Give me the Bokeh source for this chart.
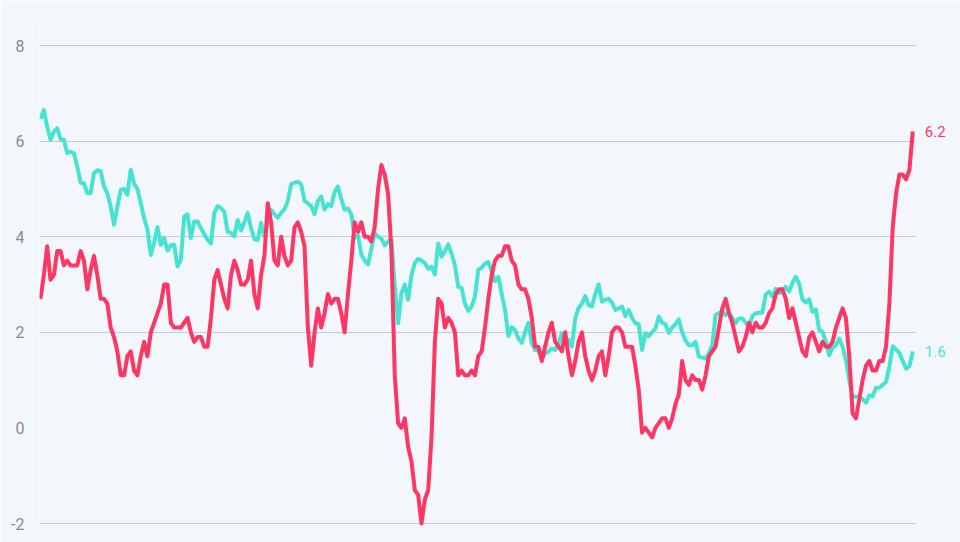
from bokeh.plotting import figure
from bokeh.models import Range1d, FixedTicker, Label, ColumnDataSource, BoxAnnotation
from bokeh.embed import file_html
from bokeh.resources import INLINE

# Monthly year-over-year % change, Jan 2000 .. Oct 2021
red_series = [
    2.7, 3.2, 3.8, 3.1, 3.2, 3.7, 3.7, 3.4, 3.5, 3.4, 3.4, 3.4,
    3.7, 3.5, 2.9, 3.3, 3.6, 3.2, 2.7, 2.7, 2.6, 2.1, 1.9, 1.6,
    1.1, 1.1, 1.5, 1.6, 1.2, 1.1, 1.5, 1.8, 1.5, 2.0, 2.2, 2.4,
    2.6, 3.0, 3.0, 2.2, 2.1, 2.1, 2.1, 2.2, 2.3, 2.0, 1.8, 1.9,
    1.9, 1.7, 1.7, 2.3, 3.1, 3.3, 3.0, 2.7, 2.5, 3.2, 3.5, 3.3,
    3.0, 3.0, 3.1, 3.5, 2.8, 2.5, 3.2, 3.6, 4.7, 4.3, 3.5, 3.4,
    4.0, 3.6, 3.4, 3.5, 4.2, 4.3, 4.1, 3.8, 2.1, 1.3, 2.0, 2.5,
    2.1, 2.4, 2.8, 2.6, 2.7, 2.7, 2.4, 2.0, 2.8, 3.5, 4.3, 4.1,
    4.3, 4.0, 4.0, 3.9, 4.2, 5.0, 5.5, 5.3, 4.9, 3.7, 1.1, 0.1,
    0.0, 0.2, -0.4, -0.7, -1.3, -1.4, -2.0, -1.5, -1.3, -0.2, 1.8, 2.7,
    2.6, 2.1, 2.3, 2.2, 2.0, 1.1, 1.2, 1.1, 1.1, 1.2, 1.1, 1.5,
    1.6, 2.1, 2.7, 3.2, 3.5, 3.6, 3.6, 3.8, 3.8, 3.5, 3.4, 3.0,
    2.9, 2.9, 2.7, 2.3, 1.7, 1.7, 1.4, 1.7, 2.0, 2.2, 1.8, 1.7,
    1.6, 2.0, 1.5, 1.1, 1.4, 1.8, 2.0, 1.5, 1.2, 1.0, 1.2, 1.5,
    1.6, 1.1, 1.5, 2.0, 2.1, 2.1, 2.0, 1.7, 1.7, 1.7, 1.3, 0.8,
    -0.1, 0.0, -0.1, -0.2, 0.0, 0.1, 0.2, 0.2, 0.0, 0.2, 0.5, 0.7,
    1.4, 1.0, 0.9, 1.1, 1.0, 1.0, 0.8, 1.1, 1.5, 1.6, 1.7, 2.1,
    2.5, 2.7, 2.4, 2.2, 1.9, 1.6, 1.7, 1.9, 2.2, 2.0, 2.2, 2.1,
    2.1, 2.2, 2.4, 2.5, 2.8, 2.9, 2.9, 2.7, 2.3, 2.5, 2.2, 1.9,
    1.6, 1.5, 1.9, 2.0, 1.8, 1.6, 1.8, 1.7, 1.7, 1.8, 2.1, 2.3,
    2.5, 2.3, 1.5, 0.3, 0.2, 0.6, 1.0, 1.3, 1.4, 1.2, 1.2, 1.4,
    1.4, 1.7, 2.6, 4.2, 4.9, 5.3, 5.3, 5.2, 5.4, 6.2,
]

cyan_series = [
    6.46, 6.65, 6.30, 6.03, 6.20, 6.27, 6.04, 6.03, 5.75, 5.78, 5.74, 5.47,
    5.13, 5.12, 4.91, 4.91, 5.33, 5.39, 5.37, 5.05, 4.91, 4.63, 4.25, 4.63,
    4.98, 5.00, 4.88, 5.40, 5.11, 5.00, 4.70, 4.39, 4.15, 3.62, 3.87, 4.20,
    3.83, 3.97, 3.71, 3.82, 3.83, 3.38, 3.52, 4.42, 4.47, 3.97, 4.32, 4.32,
    4.18, 4.05, 3.94, 3.86, 4.50, 4.64, 4.60, 4.52, 4.10, 4.08, 4.01, 4.35,
    4.13, 4.30, 4.50, 4.18, 3.95, 3.93, 4.29, 4.01, 4.30, 4.56, 4.47, 4.40,
    4.50, 4.57, 4.75, 5.10, 5.13, 5.15, 5.10, 4.75, 4.70, 4.64, 4.47, 4.75,
    4.84, 4.57, 4.68, 4.64, 4.93, 5.05, 4.79, 4.56, 4.59, 4.47, 3.98, 4.03,
    3.63, 3.50, 3.42, 3.75, 4.07, 4.00, 3.96, 3.82, 3.90, 3.96, 2.96, 2.19,
    2.82, 3.00, 2.68, 3.20, 3.45, 3.54, 3.50, 3.45, 3.33, 3.37, 3.21, 3.86,
    3.58, 3.70, 3.84, 3.65, 3.40, 2.95, 2.93, 2.60, 2.45, 2.54, 2.75, 3.31,
    3.35, 3.44, 3.47, 3.28, 3.07, 3.16, 2.80, 2.47, 1.92, 2.11, 2.05, 1.87,
    1.78, 2.00, 2.20, 1.77, 1.63, 1.61, 1.45, 1.56, 1.60, 1.66, 1.63, 1.77,
    1.98, 1.90, 1.84, 1.70, 2.29, 2.51, 2.60, 2.76, 2.57, 2.54, 2.80, 3.00,
    2.64, 2.68, 2.70, 2.62, 2.47, 2.50, 2.54, 2.34, 2.47, 2.30, 2.19, 2.17,
    1.63, 1.98, 1.92, 2.00, 2.08, 2.33, 2.20, 2.17, 1.99, 2.10, 2.17, 2.27,
    2.00, 1.83, 1.73, 1.73, 1.80, 1.49, 1.47, 1.45, 1.56, 1.73, 2.36, 2.40,
    2.43, 2.36, 2.41, 2.30, 2.19, 2.29, 2.29, 2.20, 2.12, 2.34, 2.40, 2.41,
    2.41, 2.79, 2.85, 2.75, 2.91, 2.82, 2.85, 2.95, 2.85, 3.04, 3.16, 3.02,
    2.69, 2.62, 2.69, 2.43, 2.48, 2.05, 2.01, 1.80, 1.52, 1.68, 1.73, 1.87,
    1.70, 1.42, 1.00, 0.65, 0.65, 0.65, 0.60, 0.53, 0.68, 0.66, 0.84, 0.84,
    0.90, 0.96, 1.28, 1.71, 1.64, 1.57, 1.40, 1.24, 1.29, 1.60,
]

y_ticks = [-2, 0, 2, 4, 6, 8]
grid_ticks = [-2, 2, 4, 6, 8]

months = list(range(len(red_series)))

RED = "#fd3764"
CYAN = "#46e3d3"
BG = "#f3f7fb"
FONT = "Roboto"

src = ColumnDataSource(data=dict(m=months, red=red_series, cyan=cyan_series))

W, H = 960, 542
LEFT, TOP, BOTTOM = 39, 20, 10
px_per_month = 3.342
grid_end = months[-1] + 0.9
x_start = -0.3
x_end = x_start + (W - LEFT) / px_per_month

p = figure(
    width=W, height=H,
    output_backend="svg", toolbar_location=None,
    x_range=Range1d(x_start, x_end), y_range=Range1d(-2.188, 8.523),
    min_border_left=LEFT, min_border_right=0, min_border_top=TOP, min_border_bottom=BOTTOM,
)
p.background_fill_color = BG
p.border_fill_color = BG
p.outline_line_color = None

p.xaxis.visible = False
p.xgrid.visible = False

p.yaxis.ticker = FixedTicker(ticks=y_ticks)
p.yaxis.major_label_overrides = {t: str(t) for t in y_ticks}
p.yaxis.axis_line_color = None
p.yaxis.major_tick_line_color = None
p.yaxis.minor_tick_line_color = None
p.yaxis.major_tick_out = 0
p.yaxis.major_label_standoff = 15
p.yaxis.major_label_text_color = "#8a8a8a"
p.yaxis.major_label_text_font = FONT
p.yaxis.major_label_text_font_size = "16px"

p.ygrid.ticker = FixedTicker(ticks=grid_ticks)
p.ygrid.grid_line_color = "#c6c9cd"
p.ygrid.grid_line_width = 1

# mask the grid to the right of the data so the end labels sit on plain background
p.add_layout(BoxAnnotation(left=grid_end, fill_color=BG, fill_alpha=1.0, line_color=None))

p.line("m", "cyan", source=src, line_color=CYAN, line_width=4, line_join="round")
p.line("m", "red", source=src, line_color=RED, line_width=4, line_join="round")

for series, col in ((red_series, RED), (cyan_series, CYAN)):
    p.add_layout(Label(
        x=months[-1], y=series[-1], text=f"{series[-1]:.1f}",
        x_offset=12, text_baseline="middle", text_align="left",
        text_color=col, text_font=FONT, text_font_size="15px",
    ))

open("out.html", "w").write(file_html(p, INLINE))
